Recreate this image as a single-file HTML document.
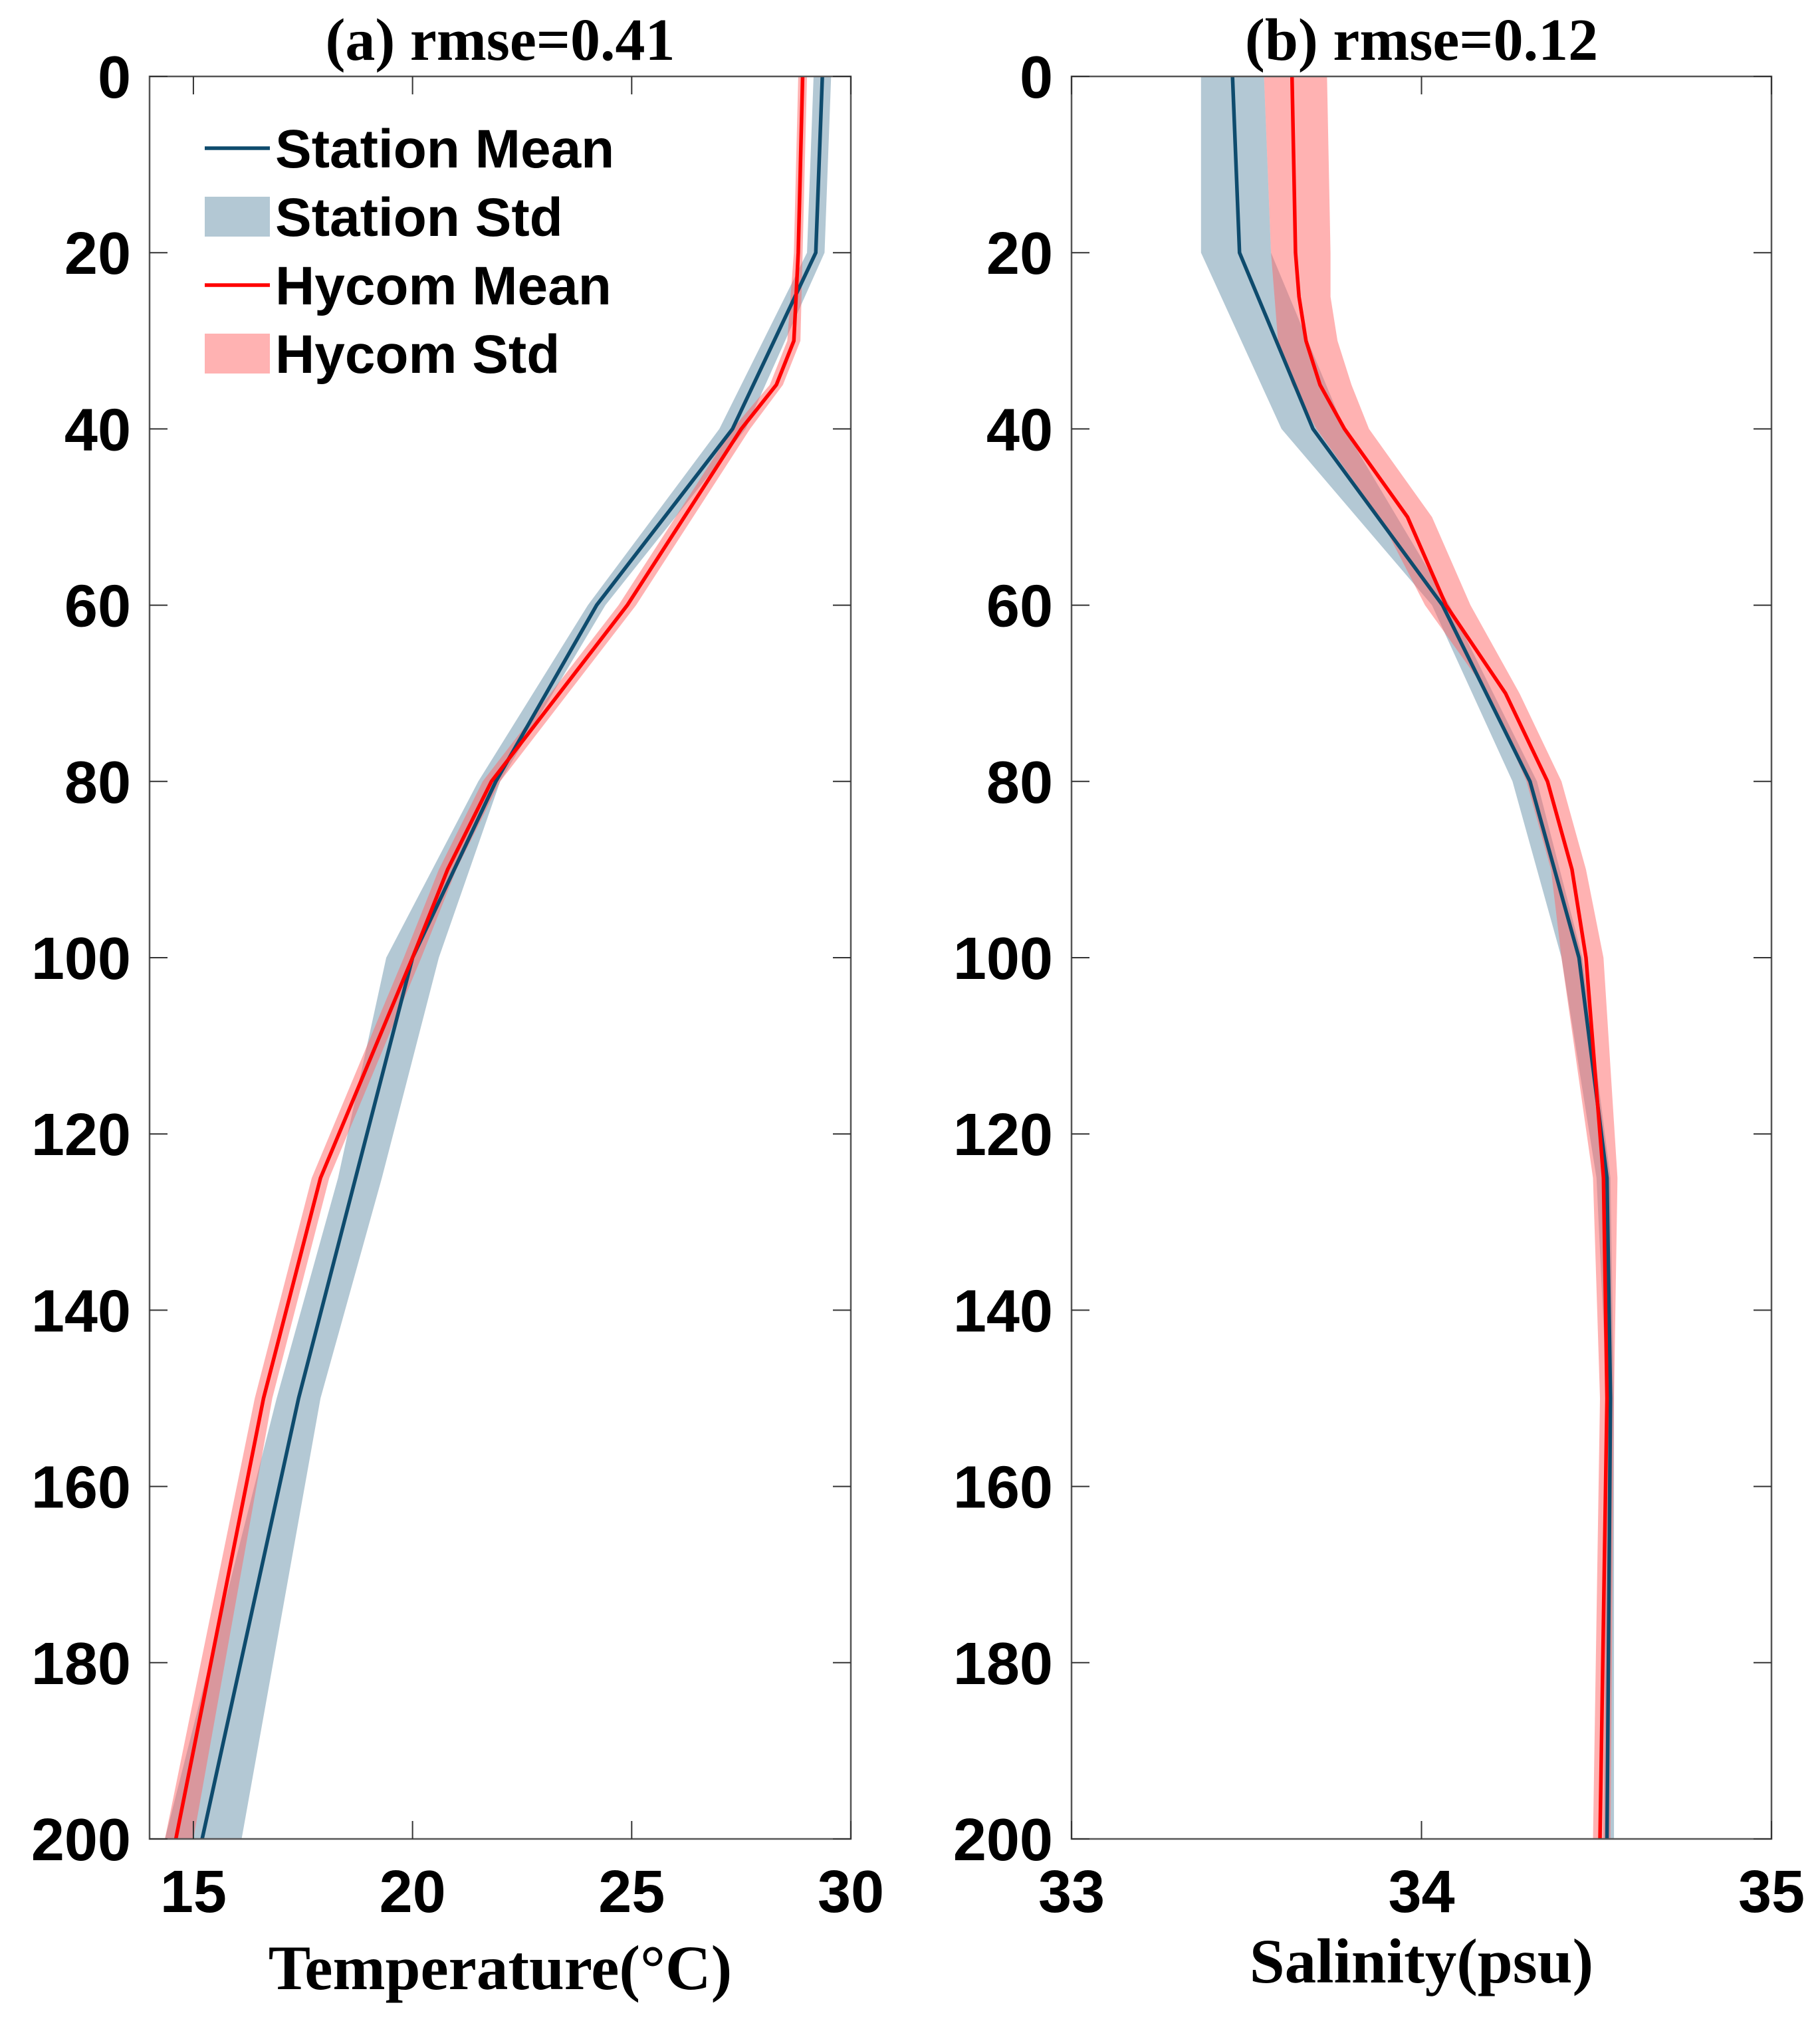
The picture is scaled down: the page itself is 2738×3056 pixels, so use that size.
<!DOCTYPE html>
<html><head><meta charset="utf-8"><style>
html,body{margin:0;padding:0;background:#fff;}
svg{display:block;}
</style></head><body>
<svg id="chart" width="2738" height="3056" viewBox="0 0 2738 3056" xmlns="http://www.w3.org/2000/svg"></svg>
<script>
// ---------- data ----------
const depthT = [0, 20, 40, 60, 80, 100, 125, 150, 200];
const stationTempMean = [29.35, 29.2, 27.3, 24.2, 21.9, 20.0, 18.7, 17.4, 15.2];
const stationTempLow = [29.15, 29.0, 27.0, 24.0, 21.5, 19.4, 18.3, 16.9, 14.35];
const stationTempHigh = [29.55, 29.4, 27.6, 24.4, 22.0, 20.6, 19.3, 17.9, 16.1];
const depthHT = [0, 20, 30, 35, 40, 60, 80, 90, 100, 125, 150, 200];
const hycomTempMean = [28.9, 28.8, 28.7, 28.3, 27.5, 24.9, 21.8, 20.8, 20.0, 17.9, 16.6, 14.6];
const hycomTempLow = [28.8, 28.7, 28.55, 28.15, 27.3, 24.7, 21.6, 20.6, 19.8, 17.7, 16.4, 14.35];
const hycomTempHigh = [29.0, 28.9, 28.85, 28.45, 27.7, 25.1, 22.0, 21.0, 20.2, 18.1, 16.8, 15.0];

const depthS = [0, 20, 40, 60, 80, 100, 125, 150, 200];
const stationSalMean = [33.46, 33.48, 33.69, 34.06, 34.31, 34.45, 34.53, 34.54, 34.53];
const stationSalLow = [33.37, 33.37, 33.6, 34.03, 34.26, 34.4, 34.5, 34.53, 34.52];
const stationSalHigh = [33.55, 33.57, 33.78, 34.08, 34.33, 34.46, 34.54, 34.55, 34.55];
const depthHS = [0, 20, 25, 30, 35, 40, 50, 60, 70, 80, 90, 100, 125, 150, 200];
const hycomSalMean = [33.63, 33.64, 33.65, 33.67, 33.71, 33.78, 33.96, 34.07, 34.24, 34.36, 34.43, 34.47, 34.52, 34.53, 34.51];
const hycomSalLow = [33.55, 33.57, 33.58, 33.59, 33.63, 33.7, 33.88, 34.01, 34.19, 34.3, 34.37, 34.4, 34.49, 34.51, 34.49];
const hycomSalHigh = [33.73, 33.74, 33.74, 33.76, 33.8, 33.85, 34.03, 34.14, 34.28, 34.4, 34.47, 34.52, 34.56, 34.55, 34.54];

const depthTicks = [0, 20, 40, 60, 80, 100, 120, 140, 160, 180, 200];
const tempTicks = [15, 20, 25, 30];
const salTicks = [33, 34, 35];

// ---------- drawing ----------
const NS = 'http://www.w3.org/2000/svg';
const svg = document.getElementById('chart');
const TOP = 115, BOT = 2767;
function mk(tag, attrs, parent) {
  const e = document.createElementNS(NS, tag);
  for (const k in attrs) e.setAttribute(k, attrs[k]);
  (parent || svg).appendChild(e);
  return e;
}
function yScale(d) { return TOP + (d / 200) * (BOT - TOP); }

function panel(opt) {
  const g = mk('g', {});
  
  
  const x = v => opt.left + (v - opt.xmin) / (opt.xmax - opt.xmin) * (opt.right - opt.left);
  const clip = mk('clipPath', {id: opt.name + '-clip'}, g);
  mk('rect', {x: opt.left, y: TOP, width: opt.right - opt.left, height: BOT - TOP}, clip);
  const dg = mk('g', {'clip-path': 'url(#' + opt.name + '-clip)'}, g);
  function band(depths, lo, hi, fill, name) {
    let pts = [];
    depths.forEach((d, i) => pts.push(x(lo[i]) + ',' + yScale(d)));
    for (let i = depths.length - 1; i >= 0; i--) pts.push(x(hi[i]) + ',' + yScale(depths[i]));
    const p = mk('polygon', {points: pts.join(' '), fill: fill, 'fill-opacity': 0.5}, dg);
    
    
  }
  function line(depths, vals, color, name) {
    const pts = depths.map((d, i) => x(vals[i]) + ',' + yScale(d)).join(' ');
    const p = mk('polyline', {points: pts, fill: 'none', stroke: color, 'stroke-width': 5.5, 'stroke-linejoin': 'round'}, dg);
    
    
  }
  band(opt.sd, opt.slo, opt.shi, '#6891aa', 'station-std-band');
  band(opt.hd, opt.hlo, opt.hhi, '#ff6666', 'hycom-std-band');
  line(opt.sd, opt.smean, '#0e4b6d', 'station-mean-line');
  line(opt.hd, opt.hmean, '#ff0000', 'hycom-mean-line');
  const fr = mk('rect', {x: opt.left, y: TOP, width: opt.right - opt.left, height: BOT - TOP, fill: 'none', stroke: '#555', 'stroke-width': 2.5}, g);
  
  
  depthTicks.forEach(d => {
    const y = yScale(d);
    mk('line', {x1: opt.left, x2: opt.left + 27, y1: y, y2: y, stroke: '#333', 'stroke-width': 2}, g);
    mk('line', {x1: opt.right, x2: opt.right - 27, y1: y, y2: y, stroke: '#333', 'stroke-width': 2}, g);
    const t = mk('text', {x: opt.left - 28, y: y + 32, 'text-anchor': 'end', 'font-family': 'Liberation Sans, sans-serif', 'font-weight': 'bold', 'font-size': 90}, g);
    t.textContent = d;
    
    
  });
  opt.xticks.forEach(v => {
    const xx = x(v);
    mk('line', {x1: xx, x2: xx, y1: TOP, y2: TOP + 27, stroke: '#333', 'stroke-width': 2}, g);
    mk('line', {x1: xx, x2: xx, y1: BOT, y2: BOT - 27, stroke: '#333', 'stroke-width': 2}, g);
    const t = mk('text', {x: xx, y: 2877, 'text-anchor': 'middle', 'font-family': 'Liberation Sans, sans-serif', 'font-weight': 'bold', 'font-size': 90}, g);
    t.textContent = v;
    
    
  });
  const ti = mk('text', {x: (opt.left + opt.right) / 2, y: 90, 'text-anchor': 'middle', 'font-family': 'Liberation Serif, serif', 'font-weight': 'bold', 'font-size': 90}, g);
  ti.textContent = opt.title;
  
  
  const xl = mk('text', {x: (opt.left + opt.right) / 2, y: opt.xlabelY, 'text-anchor': 'middle', 'font-family': 'Liberation Serif, serif', 'font-weight': 'bold', 'font-size': 95}, g);
  xl.textContent = opt.xlabel;
  
  
}

panel({name: 'temperature-panel', left: 225, right: 1280, xmin: 14, xmax: 30, xticks: tempTicks,
  title: '(a) rmse=0.41', xlabel: 'Temperature(°C)', xlabelY: 2993,
  sd: depthT, smean: stationTempMean, slo: stationTempLow, shi: stationTempHigh,
  hd: depthHT, hmean: hycomTempMean, hlo: hycomTempLow, hhi: hycomTempHigh});
panel({name: 'salinity-panel', left: 1612, right: 2665, xmin: 33, xmax: 35, xticks: salTicks,
  title: '(b) rmse=0.12', xlabel: 'Salinity(psu)', xlabelY: 2983,
  sd: depthS, smean: stationSalMean, slo: stationSalLow, shi: stationSalHigh,
  hd: depthHS, hmean: hycomSalMean, hlo: hycomSalLow, hhi: hycomSalHigh});

const lg = mk('g', {});


const legendLabels = ['Station Mean', 'Station Std', 'Hycom Mean', 'Hycom Std'];
const legendKinds = ['line', 'patch', 'line', 'patch'];
const legendColors = ['#0e4b6d', '#6891aa', '#ff0000', '#ff6666'];
legendLabels.forEach((lab, i) => {
  const cy = 223 + i * 103;
  if (legendKinds[i] === 'line') {
    const l = mk('line', {x1: 308, x2: 406, y1: cy, y2: cy, stroke: legendColors[i], 'stroke-width': 5.5}, lg);
    
    
  } else {
    const r = mk('rect', {x: 308, y: cy - 30, width: 98, height: 60, fill: legendColors[i], 'fill-opacity': 0.5}, lg);
    
    
  }
  const t = mk('text', {x: 414, y: cy + 29, 'font-family': 'Liberation Sans, sans-serif', 'font-weight': 'bold', 'font-size': 82}, lg);
  t.textContent = lab;
  
  
});
</script>
</body></html>
